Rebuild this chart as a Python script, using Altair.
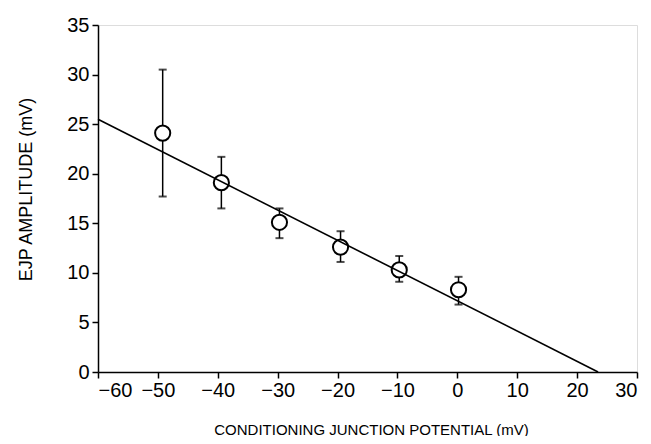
import altair as alt
import pandas as pd

# Data
x_vals = [-49.2, -39.4, -29.7, -19.5, -9.7, 0.2]
y_vals = [24.1, 19.1, 15.1, 12.6, 10.3, 8.3]
err_hi = [30.5, 21.7, 16.5, 14.2, 11.7, 9.6]
err_lo = [17.7, 16.5, 13.5, 11.1, 9.1, 6.8]
fit_x = [-60, 23.5]
fit_y = [25.5, 0]

x_ticks = [-60, -50, -40, -30, -20, -10, 0, 10, 20, 30]
y_ticks = [0, 5, 10, 15, 20, 25, 30, 35]

pts = pd.DataFrame({"x": x_vals, "y": y_vals, "hi": err_hi, "lo": err_lo})
fit = pd.DataFrame({"x": fit_x, "y": fit_y})

FONT = "Liberation Sans"

xscale = alt.Scale(domain=[-60, 30], nice=False, zero=False)
yscale = alt.Scale(domain=[0, 35], nice=False, zero=False)

xaxis = alt.Axis(
    values=x_ticks, title="CONDITIONING JUNCTION POTENTIAL (mV)", grid=False,
    domainColor="black", domainWidth=1.5, tickColor="black", tickWidth=1.5, tickSize=6,
    labelColor="black", labelFontSize=20, labelFont=FONT, labelPadding=2,
    titleColor="black", titleFontSize=15, titleFont=FONT, titleFontWeight="normal",
    titleX=273, titleY=57, titleBaseline="middle", titleAnchor="middle",
)
yaxis = alt.Axis(
    values=y_ticks, title="EJP AMPLITUDE (mV)", grid=False,
    domainColor="black", domainWidth=1.5, tickColor="black", tickWidth=1.5, tickSize=6,
    labelColor="black", labelFontSize=20, labelFont=FONT, labelPadding=3,
    titleColor="black", titleFontSize=18, titleFont=FONT, titleFontWeight="normal",
    titleX=-72, titleY=164, titleBaseline="middle", titleAngle=-90, titleAnchor="middle",
)

base = alt.Chart(pts)

rules = base.mark_rule(color="black", strokeWidth=1.5).encode(
    x=alt.X("x:Q", scale=xscale, axis=xaxis),
    y=alt.Y("lo:Q", scale=yscale, axis=yaxis),
    y2="hi:Q",
)
cap_hi = base.mark_tick(color="black", orient="horizontal", size=8, thickness=2).encode(
    x=alt.X("x:Q", scale=xscale), y=alt.Y("hi:Q", scale=yscale)
)
cap_lo = base.mark_tick(color="black", orient="horizontal", size=8, thickness=2).encode(
    x=alt.X("x:Q", scale=xscale), y=alt.Y("lo:Q", scale=yscale)
)
circles = base.mark_point(shape="circle", size=230, filled=False, fill="white",
                          fillOpacity=1, stroke="black", strokeWidth=2, opacity=1).encode(
    x=alt.X("x:Q", scale=xscale), y=alt.Y("y:Q", scale=yscale)
)
line = alt.Chart(fit).mark_line(color="black", strokeWidth=1.6).encode(
    x=alt.X("x:Q", scale=xscale), y=alt.Y("y:Q", scale=yscale)
)

chart = alt.layer(rules, cap_hi, cap_lo, circles, line).properties(
    width=539, height=347,
    autosize=alt.AutoSizeParams(type="none"),
    padding={"left": 90, "top": 17, "right": 6, "bottom": 64},
).configure_view(stroke=None).configure(background="white")

chart.save("out.html", embed_options={"renderer": "svg", "actions": False})
